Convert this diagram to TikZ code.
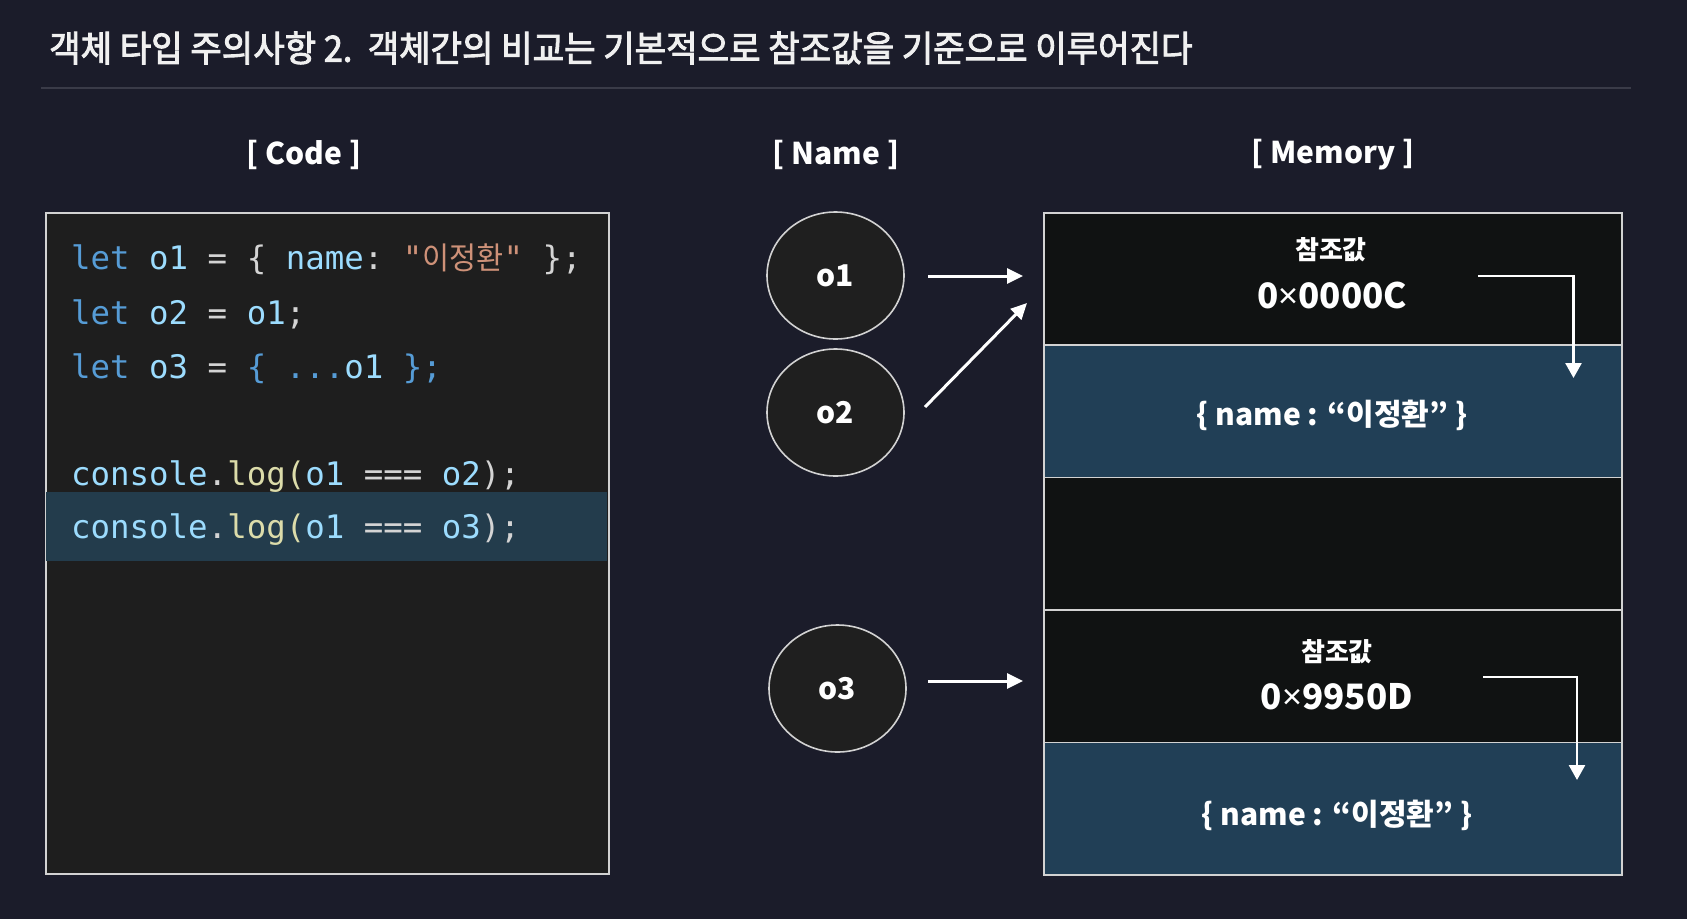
\documentclass[tikz,border=0pt]{standalone}
\usepackage{fontspec}
\usetikzlibrary{arrows.meta,shapes.geometric}
\setmainfont{Noto Sans CJK KR}
\newfontfamily\kr{Noto Sans CJK KR}
\newfontfamily\krtitle{Noto Sans CJK KR}[FakeBold=2.5,FakeStretch=0.95]
\newfontfamily\krcode{Noto Sans CJK KR}[FakeStretch=0.95]
\newfontfamily\lat{Noto Sans}
\newfontfamily\codefont{DejaVu Sans Mono}[Ligatures=TeXOff]
\definecolor{bgc}{HTML}{1B1C2A}
\definecolor{codebg}{HTML}{1E1E1E}
\definecolor{hlc}{HTML}{233C4C}
\definecolor{circbg}{HTML}{1F1F1F}
\definecolor{memblack}{HTML}{101212}
\definecolor{memblue}{HTML}{213F56}
\definecolor{edge}{HTML}{D2D2D2}
\definecolor{sepc}{HTML}{3A3B48}
\definecolor{kw}{HTML}{569CD6}
\definecolor{var}{HTML}{9CDCFE}
\definecolor{opc}{HTML}{D4D4D4}
\definecolor{strc}{HTML}{CE9178}
\definecolor{fnc}{HTML}{DCDCAA}
\newcommand\ckw[1]{\textcolor{kw}{#1}}
\newcommand\cvar[1]{\textcolor{var}{#1}}
\newcommand\cop[1]{\textcolor{opc}{#1}}
\newcommand\cstr[1]{\textcolor{strc}{#1}}
\newcommand\cfn[1]{\textcolor{fnc}{#1}}
\begin{document}
\begin{tikzpicture}[x=1pt,y=-1pt,
  codeline/.style={anchor=base west, inner sep=0pt, font={\codefont\fontsize{32.4}{36}\selectfont\frenchspacing}},
  header/.style={inner sep=0pt, text=white, font={\bfseries\fontsize{30}{34}\selectfont}},
  circ/.style={ellipse, draw=edge, line width=1.6pt, fill=circbg, text=white, minimum width=137pt, minimum height=127pt, inner sep=0pt, font={\bfseries\fontsize{30}{34}\selectfont}},
  memrow/.style={rectangle, draw=edge, line width=1.5pt, anchor=north west, minimum width=578pt, minimum height=132.4pt, inner sep=0pt},
  memtxt/.style={inner sep=0pt, text=white},
  arr/.style={draw=white, line width=3pt, -{Triangle[length=16pt,width=15pt]}},
  arrin/.style={draw=white, line width=2.6pt, -{Triangle[length=15pt,width=16pt]}}
]
\fill[bgc] (0,0) rectangle (1687,919);
\useasboundingbox (0,0) rectangle (1687,919);

% title
\node[anchor=west, inner sep=0pt, text=white!94!black, font={\krtitle\fontsize{36}{40}\selectfont}] (title) at (49,48)
  {객체 타입 주의사항 2.\ \ 객체간의 비교는 기본적으로 참조값을 기준으로 이루어진다};
\coordinate (sepL) at (41,88);
\coordinate (sepR) at (1631,88);
\draw[sepc, line width=2pt] (sepL) -- (sepR);

% headers
\node[header] (hcode) at (304,155) {[ Code ]};
\node[header] (hname) at (836,155) {[ Name ]};
\node[header] (hmem) at (1333,155) {[ Memory ]};

% code box
\node[rectangle, draw=edge, line width=1.8pt, fill=codebg, anchor=north west, minimum width=563pt, minimum height=661pt, inner sep=0pt] (code) at (45,212) {};
\node[rectangle, fill=hlc, anchor=north west, minimum width=561pt, minimum height=69pt, inner sep=0pt] (hl) at (46,492) {};

\node[codeline] (l1) at (71,269) {\ckw{let} \cvar{o1} \cop{= \{} \cvar{name}\cop{:} \cstr{"{\krcode\fontsize{31}{34}\selectfont 이정환}"} \cop{\};}};
\node[codeline] (l2) at (71,324) {\ckw{let} \cvar{o2} \cop{=} \cvar{o1}\cop{;}};
\node[codeline] (l3) at (71,378) {\ckw{let} \cvar{o3} \cop{=} \ckw{\{ ...}\cvar{o1} \ckw{\};}};
\node[codeline] (l4) at (71,485) {\cvar{console}\cop{.}\cfn{log(}\cvar{o1} \cop{===} \cvar{o2}\cop{);}};
\node[codeline] (l5) at (71,538) {\cvar{console}\cop{.}\cfn{log(}\cvar{o1} \cop{===} \cvar{o3}\cop{);}};

% name circles
\node[circ] (o1) at (835.5,275.5) {o1};
\node[circ] (o2) at (835.5,412.5) {o2};
\node[circ] (o3) at (837.5,688.5) {o3};

% memory rows
\node[memrow, fill=memblack] (m1) at (1043,212) {};
\node[memrow, fill=memblue] (m2) at (1043,344.4) {};
\node[memrow, fill=memblack] (m3) at (1043,476.8) {};
\node[memrow, fill=memblack] (m4) at (1043,609.2) {};
\node[memrow, fill=memblue] (m5) at (1043,741.6) {};

\node[memtxt, font={\bfseries\fontsize{26}{30}\selectfont}] (ref1) at (1331,250) {참조값};
\node[memtxt, font={\bfseries\fontsize{35}{40}\selectfont}] (addr1) at (1332,295) {0{\lat\bfseries ×}0000C};
\node[memtxt, font={\bfseries\fontsize{30}{34}\selectfont}] (val1) at (1332,415) {\{ name : “이정환” \}};
\node[memtxt, font={\bfseries\fontsize{26}{30}\selectfont}] (ref2) at (1337,652) {참조값};
\node[memtxt, font={\bfseries\fontsize{35}{40}\selectfont}] (addr2) at (1337,697) {0{\lat\bfseries ×}9950D};
\node[memtxt, font={\bfseries\fontsize{30}{34}\selectfont}] (val2) at (1337,815) {\{ name : “이정환” \}};

% arrows name -> memory
\coordinate (a1s) at (928,276);
\coordinate (a1e) at (1023,276);
\coordinate (a2s) at (925,407);
\coordinate (a2e) at (1027,303);
\coordinate (a3s) at (928,681);
\coordinate (a3e) at (1023,681);
\draw[arr] (a1s) -- (a1e);
\draw[arr] (a2s) -- (a2e);
\draw[arr] (a3s) -- (a3e);

% inner arrows
\coordinate (r1s) at (1478,276);
\coordinate (r1e) at (1573.5,378);
\coordinate (r2s) at (1483,677);
\coordinate (r2e) at (1577,780);
\draw[arrin] (r1s) -| (r1e);
\draw[arrin] (r2s) -| (r2e);
\end{tikzpicture}
\end{document}
